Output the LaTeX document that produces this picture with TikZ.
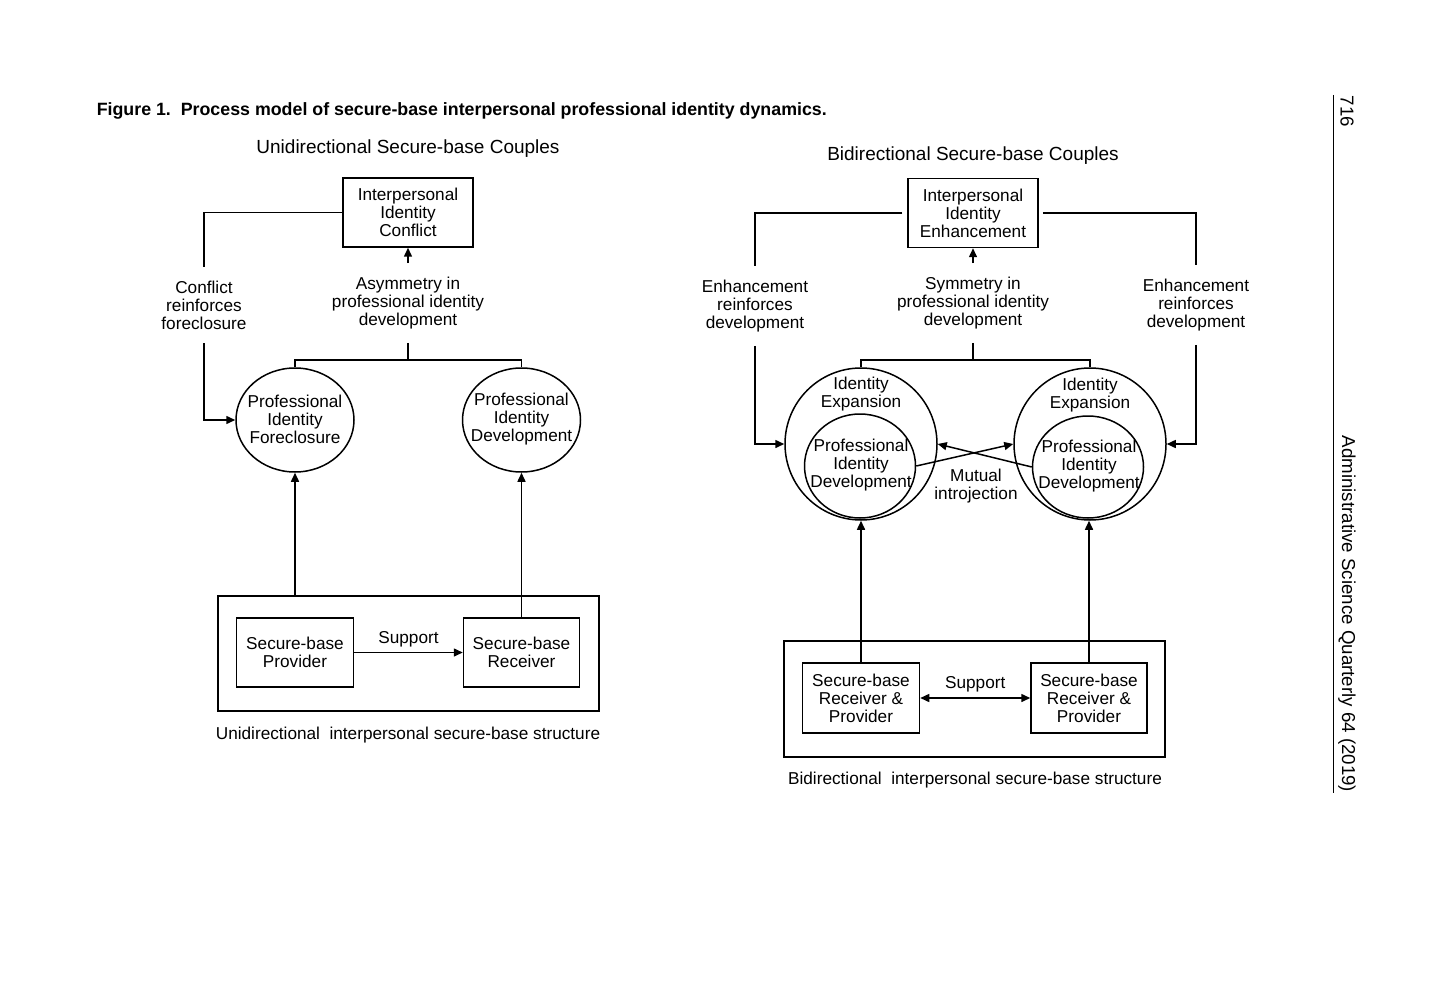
\documentclass[tikz,border=0pt]{standalone}
\usepackage{fontspec}
\setmainfont{Liberation Sans}
\usetikzlibrary{shapes.geometric,arrows.meta,calc}
\begin{document}
\begin{tikzpicture}[x=1pt,y=-1pt,
  line width=1.5pt,
  txt/.style={font=\fontsize{17.2}{18}\selectfont, align=center, inner sep=0pt},
  head/.style={font=\fontsize{19}{20}\selectfont, inner sep=0pt},
  lbl/.style={txt, inner xsep=2pt, inner ysep=13pt},
  box/.style={draw, txt, minimum width=#1, minimum height=69pt},
  frame/.style={draw, minimum width=381pt, minimum height=#1, inner sep=0pt},
  oval/.style={draw, ellipse, inner sep=0pt, minimum width=#1},
  arr/.style={-{Triangle[length=9pt,width=8pt]}},
  darr/.style={{Triangle[length=9pt,width=8pt]}-{Triangle[length=9pt,width=8pt]}},
]
\useasboundingbox (0,0) rectangle (1440,1008);

% title and running head
\node[anchor=base west, inner sep=0pt, font=\bfseries\fontsize{17.8}{20}\selectfont] (title) at (96,116)
  {Figure 1.\ \ Process model of secure-base interpersonal professional identity dynamics.};
\draw[line width=1pt] (1333,95) coordinate (rt) -- (1333,793) coordinate (rb);
\node[inner sep=0pt, rotate=-90, anchor=west, font=\fontsize{18.7}{20}\selectfont] (page) at (1347,95) {716};
\node[inner sep=0pt, rotate=-90, anchor=east, font=\fontsize{18.7}{20}\selectfont] (journal) at (1347,793)
  {Administrative Science Quarterly 64 (2019)};

% ---------------- unidirectional couples ----------------
\node[head] (hL) at (408,149) {Unidirectional Secure-base Couples};
\node[box=130pt] (conf) at (408,212.5) {Interpersonal\\Identity\\Conflict};
\node[lbl] (cl) at (204,305) {Conflict\\reinforces\\foreclosure};
\node[lbl] (asym) at (408,303) {Asymmetry in\\professional identity\\development};
\node[oval=118pt, minimum height=104pt] (pf) at (295,420) {};
\node[txt] (pft) at (295,419) {Professional\\Identity\\Foreclosure};
\node[oval=118pt, minimum height=104pt] (pd) at (521.5,420) {};
\node[txt] (pdt) at (521.5,419) {Professional\\Identity\\Development};
\coordinate (jL) at (408,360);

\node[frame=115pt] (fL) at (408.5,653.5) {};
\node[box=117pt] (prov) at (295,652.5) {Secure-base\\Provider};
\node[box=116pt] (recv) at (521.5,652.5) {Secure-base\\Receiver};
\node[txt] (capL) at (408,735) {Unidirectional\ \ interpersonal secure-base structure};

\draw (conf.west) -| (cl.north);
\draw[arr] (cl.south) |- (pf.west);
\draw[arr] (asym.north) -- (conf.south);
\draw (asym.south) -- (jL);
\draw (pf.north) |- (jL) -| (pd.north);
\draw[arr] (pf.south |- fL.north) -- (pf.south);
\draw[arr] (recv.north) -- (pd.south);
\draw[arr] (prov.east) -- node[txt, above=5pt] (supL) {Support} (recv.west);

% ---------------- bidirectional couples ----------------
\node[head] (hR) at (973,156) {Bidirectional Secure-base Couples};
\node[box=130pt] (enh) at (973,213) {Interpersonal\\Identity\\Enhancement};
\node[lbl] (el) at (755,306) {Enhancement\\reinforces\\development};
\node[lbl] (er) at (1196,305) {Enhancement\\reinforces\\development};
\node[lbl] (sym) at (973,303) {Symmetry in\\professional identity\\development};
\coordinate (jR) at (973,360);

\node[draw, circle, minimum size=152pt, inner sep=0pt] (oL) at (861,444) {};
\node[draw, circle, minimum size=152pt, inner sep=0pt] (oR) at (1090,444) {};
\node[txt] (xL) at (861,394) {Identity\\Expansion};
\node[txt] (xR) at (1090,395) {Identity\\Expansion};
\node[oval=111pt, minimum height=104pt] (iL) at (860,466) {};
\node[txt] (iLt) at (861,465) {Professional\\Identity\\Development};
\node[oval=111pt, minimum height=102pt] (iR) at (1088,467) {};
\node[txt] (iRt) at (1089,466) {Professional\\Identity\\Development};
\node[txt] (mut) at (976,486) {Mutual\\introjection};

\node[frame=116pt] (fR) at (974.5,699) {};
\node[box=117pt, minimum height=70pt] (rp1) at (861,698) {Secure-base\\Receiver \&\\Provider};
\node[box=116pt, minimum height=70pt] (rp2) at (1089,698) {Secure-base\\Receiver \&\\Provider};
\node[txt] (capR) at (975,780) {Bidirectional\ \ interpersonal secure-base structure};

\draw ([xshift=-5pt]enh.west) -| (el.north);
\draw ([xshift=4pt]enh.east) -| (er.north);
\draw[arr] (el.south) |- (oL.west);
\draw[arr] (er.south) |- (oR.east);
\draw[arr] (sym.north) -- (enh.south);
\draw (sym.south) -- (jR);
\draw (oL.north) |- (jR) -| (oR.north);
\draw[arr] (iL.east) -- (oR.west);
\draw[arr] (iR.west) -- (oL.east);
\draw[arr] (rp1.north) -- (rp1.north |- oL.south);
\draw[arr] (rp2.north) -- (rp2.north |- oR.south);
\draw[darr] (rp1.east) -- node[txt, above=5pt] (supR) {Support} (rp2.west);

\end{tikzpicture}
\end{document}
